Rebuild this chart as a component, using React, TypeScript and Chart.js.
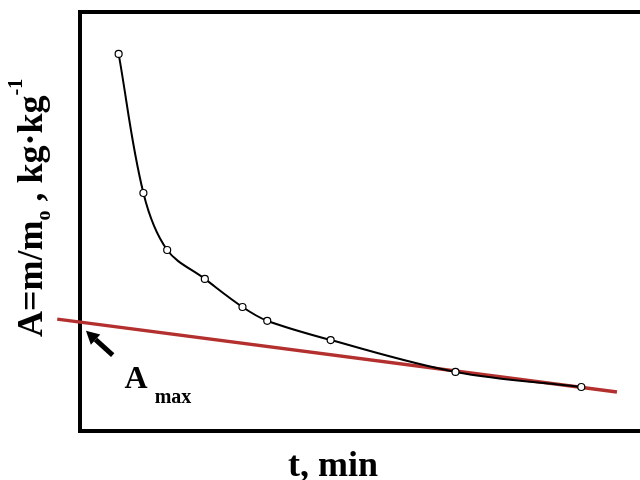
import React, { useEffect, useRef } from "react";
import { Chart, registerables } from "chart.js";

Chart.register(...registerables);

// Drying curve data (t in min, A = m/m0)
const T_MIN = [1.95, 3.2, 4.4, 6.3, 8.2, 9.45, 12.65, 18.95, 25.3];
const A_VALUES = [0.9, 0.568, 0.432, 0.363, 0.296, 0.263, 0.217, 0.141, 0.105];

// Red tangent line (two ends)
const TANGENT_T = [-1.15, 27.1];
const TANGENT_A = [0.267, 0.093];

const X_TITLE = "t, min";
const Y_TITLE_PARTS = ["A=m/m", "o", " , ", "kg·kg", "-1"];
const AMAX_MAIN = "A";
const AMAX_SUB = "max";

// annotation anchors in data units
const ARROW_TIP = { t: 0.3, a: 0.239 };
const ARROW_TAIL = { t: 1.65, a: 0.181 };
const AMAX_POS = { t: 2.25, a: 0.103 };

const SERIF = '"Times New Roman", "Liberation Serif", serif';

const overlayPlugin = {
  id: "overlay",
  beforeDatasetsDraw(chart: any) {
    const { ctx, chartArea } = chart;
    ctx.save();
    ctx.strokeStyle = "#000";
    ctx.lineWidth = 4;
    ctx.lineCap = "square";
    ctx.beginPath();
    ctx.moveTo(chart.width + 10, chartArea.top);
    ctx.lineTo(chartArea.left, chartArea.top);
    ctx.lineTo(chartArea.left, chartArea.bottom);
    ctx.lineTo(chart.width + 10, chartArea.bottom);
    ctx.stroke();
    ctx.restore();
  },
  afterDraw(chart: any) {
    const { ctx, scales } = chart;
    const xs = scales.x;
    const ys = scales.y;
    ctx.save();
    ctx.fillStyle = "#000";
    ctx.strokeStyle = "#000";

    // Arrow
    const tipX = xs.getPixelForValue(ARROW_TIP.t);
    const tipY = ys.getPixelForValue(ARROW_TIP.a);
    const tailX = xs.getPixelForValue(ARROW_TAIL.t);
    const tailY = ys.getPixelForValue(ARROW_TAIL.a);
    const ang = Math.atan2(tipY - tailY, tipX - tailX);
    const headLen = 13;
    const headW = 7;
    const bx = tipX - headLen * Math.cos(ang);
    const by = tipY - headLen * Math.sin(ang);
    ctx.lineWidth = 5;
    ctx.beginPath();
    ctx.moveTo(tailX, tailY);
    ctx.lineTo(bx, by);
    ctx.stroke();
    ctx.beginPath();
    ctx.moveTo(tipX, tipY);
    ctx.lineTo(bx + headW * Math.sin(ang), by - headW * Math.cos(ang));
    ctx.lineTo(bx - headW * Math.sin(ang), by + headW * Math.cos(ang));
    ctx.closePath();
    ctx.fill();

    // A_max label
    const ax = xs.getPixelForValue(AMAX_POS.t);
    const ay = ys.getPixelForValue(AMAX_POS.a);
    ctx.textBaseline = "alphabetic";
    ctx.textAlign = "left";
    ctx.font = `bold 32px ${SERIF}`;
    ctx.fillText(AMAX_MAIN, ax, ay);
    const aw = ctx.measureText(AMAX_MAIN).width;
    ctx.font = `bold 20px ${SERIF}`;
    ctx.fillText(AMAX_SUB, ax + aw + 7, ay + 15);

    // X title
    ctx.font = `bold 36px ${SERIF}`;
    ctx.textAlign = "center";
    ctx.fillText(X_TITLE, 333, 476);

    // Y title (rotated, with subscript & superscript)
    ctx.translate(42, 337);
    ctx.rotate(-Math.PI / 2);
    ctx.textAlign = "left";
    const specs = [
      { size: 36, dy: 0 },
      { size: 20, dy: 8 },
      { size: 36, dy: 0 },
      { size: 36, dy: 0 },
      { size: 20, dy: -20 },
    ];
    let px = 0;
    Y_TITLE_PARTS.forEach((txt, i) => {
      ctx.font = `bold ${specs[i].size}px ${SERIF}`;
      ctx.fillText(txt, px, specs[i].dy);
      px += ctx.measureText(txt).width;
    });
    ctx.restore();
  },
};

export default function App() {
  const ref = useRef<HTMLCanvasElement | null>(null);
  useEffect(() => {
    if (!ref.current) return;
    const chart = new Chart(ref.current, {
      type: "line",
      data: {
        datasets: [
          {
            label: "A",
            data: T_MIN.map((t, i) => ({ x: t, y: A_VALUES[i] })),
            borderColor: "#000",
            borderWidth: 2,
            tension: 0.35,
            pointRadius: 3.5,
            pointBackgroundColor: "#fff",
            pointBorderColor: "#000",
            pointBorderWidth: 1.2,
            order: 1,
          },
          {
            label: "tangent",
            data: TANGENT_T.map((t, i) => ({ x: t, y: TANGENT_A[i] })),
            borderColor: "#b3302e",
            borderWidth: 3.5,
            pointRadius: 0,
            clip: false,
            order: 2,
          },
        ],
      } as any,
      options: {
        animation: false,
        responsive: false,
        maintainAspectRatio: false,
        layout: { padding: { left: 80, top: 12, right: 0, bottom: 49 } },
        plugins: { legend: { display: false }, tooltip: { enabled: false } },
        scales: {
          x: { type: "linear", min: 0, max: 28, display: false },
          y: { type: "linear", min: 0, max: 1, display: false },
        },
      } as any,
      plugins: [overlayPlugin],
    });
    return () => chart.destroy();
  }, []);
  return (
    <div style={{ position: "fixed", left: 0, top: 0, width: 640, height: 480, background: "#fff" }}>
      <canvas ref={ref} width={640} height={480} />
    </div>
  );
}
